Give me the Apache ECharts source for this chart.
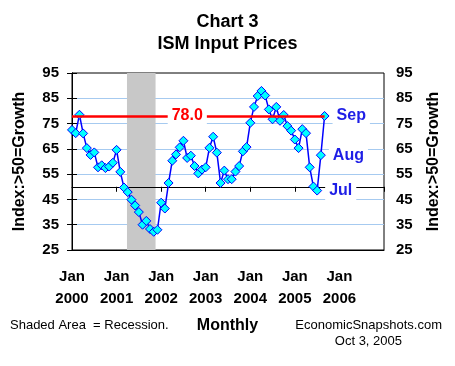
<!DOCTYPE html>
<html><head><meta charset="utf-8">
<script src="https://cdn.jsdelivr.net/npm/echarts@6/dist/echarts.min.js"></script>
<style>html,body{margin:0;padding:0;background:#fff}#c{width:455px;height:366px}</style>
</head><body><div id="c"></div>
<script>
// Monthly ISM input prices index, Jan 2000 .. Sep 2005
const values = [
  72.5, 71.2, 78.5, 71.1, 65.3, 62.6, 63.6, 57.7, 58.5, 57.4, 58.0, 59.5,   // 2000
  64.6, 55.9, 49.7, 47.9, 44.9, 42.6, 40.0, 35.0, 36.5, 33.3, 32.2, 33.0,   // 2001
  43.7, 41.4, 51.5, 60.3, 62.8, 65.6, 68.2, 61.4, 62.3, 58.2, 55.3, 56.8,   // 2002
  57.7, 65.4, 69.8, 63.5, 51.5, 56.4, 53.0, 53.0, 56.0, 58.2, 64.0, 65.7,   // 2003
  75.3, 81.6, 85.9, 87.9, 86.1, 80.6, 76.7, 81.6, 76.1, 78.4, 74.0, 72.2,   // 2004
  68.7, 65.3, 72.8, 71.2, 57.7, 50.1, 48.5, 62.5, 78.0                      // 2005
];
const yearLabels = ['Jan\n2000','Jan\n2001','Jan\n2002','Jan\n2003','Jan\n2004','Jan\n2005','Jan\n2006'];
const yTicks = [25, 35, 45, 55, 65, 75, 85, 95];
const baseline = 50;          // growth threshold line
const target = 78.0;          // latest reading reference line
const recession = [14.8, 22.5]; // months since Jan 2000 (Mar-Nov 2001)
const monthLabels = {66: 'Jul', 67: 'Aug', 68: 'Sep'};
const monthsSpan = 84;

const FF = 'Liberation Sans, Arial, sans-serif';
const data = values.map((v, i) => {
  const item = { value: [i, +(v - baseline).toFixed(2)] };
  if (monthLabels[i]) {
    item.label = {
      show: true, position: 'right', distance: 3, formatter: monthLabels[i],
      color: '#1e1ee6', fontWeight: 'bold', fontSize: 16, fontFamily: FF,
      backgroundColor: '#ffffff', padding: [4, 4], lineHeight: 16
    };
  }
  return item;
});

const yMin = yTicks[0] - baseline, yMax = yTicks[yTicks.length - 1] - baseline;
const yAxisBase = (pos, margin, gap) => ({
  type: 'value', min: yMin, max: yMax, interval: 10, position: pos,
  name: 'Index:>50=Growth', nameLocation: 'middle', nameGap: gap, nameRotate: 90, nameMoveOverlap: false,
  nameTextStyle: { fontWeight: 'bold', fontSize: 16, color: '#000', fontFamily: FF },
  axisLine: { show: true, lineStyle: { color: '#000', width: 1 } },
  axisTick: { show: true, length: 5, lineStyle: { color: '#000' } },
  axisLabel: { formatter: v => String(Math.round(v + baseline)), fontWeight: 'bold', fontSize: 15, color: '#000', margin: margin, fontFamily: FF },
  splitLine: { show: false }
});
const yLeft = yAxisBase('left', 13, 44);
yLeft.splitLine = { show: true, showMinLine: false, showMaxLine: false, lineStyle: { color: '#a6caf0', width: 1 } };
const yRight = yAxisBase('right', 12, 42);

const chart = echarts.init(document.getElementById('c'), null, { renderer: 'canvas' });
chart.setOption({
  animation: false,
  textStyle: { fontFamily: FF },
  title: [
    { text: 'Chart 3\nISM Input Prices', left: 'center', top: 11, padding: 0,
      textStyle: { fontSize: 18, fontWeight: 'bold', lineHeight: 22, color: '#000', fontFamily: FF } },
    { text: 'Shaded Area  = Recession.', left: 10, top: 319, padding: 0,
      textStyle: { fontSize: 13, fontWeight: 'normal', color: '#000', fontFamily: FF } },
    { text: 'Monthly', left: 'center', top: 318, padding: 0,
      textStyle: { fontSize: 16, fontWeight: 'bold', color: '#000', fontFamily: FF } },
    { text: 'EconomicSnapshots.com', right: 13, top: 319, padding: 0,
      textStyle: { fontSize: 13, fontWeight: 'normal', color: '#000', fontFamily: FF } },
    { text: 'Oct 3, 2005', right: 53, top: 335, padding: 0,
      textStyle: { fontSize: 13, fontWeight: 'normal', color: '#000', fontFamily: FF } }
  ],
  grid: { left: 72, right: 71, top: 73, bottom: 116, show: true, borderColor: '#000', borderWidth: 1, backgroundColor: 'transparent' },
  xAxis: [
    { type: 'value', min: 0, max: monthsSpan, interval: 12, position: 'bottom', z: 2,
      axisLine: { onZero: false, lineStyle: { color: '#000', width: 1 } },
      axisTick: { show: false }, splitLine: { show: false },
      axisLabel: { formatter: v => yearLabels[v / 12] || '', fontWeight: 'bold', fontSize: 15, color: '#000', lineHeight: 22, margin: 16, fontFamily: FF } },
    { type: 'value', min: 0, max: monthsSpan, interval: 12, position: 'bottom', z: 2,
      axisLine: { onZero: true, lineStyle: { color: '#000', width: 1 } },
      axisTick: { show: true, length: 5, lineStyle: { color: '#000' } },
      axisLabel: { show: false }, splitLine: { show: false } }
  ],
  yAxis: [yLeft, yRight],
  series: [
    { type: 'line', xAxisIndex: 0, yAxisIndex: 0, data: [], z: 1, silent: true,
      markArea: { silent: true, itemStyle: { color: '#c8c8c8' },
        data: [[{ xAxis: recession[0] }, { xAxis: recession[1] }]] } },
    { type: 'line', xAxisIndex: 0, yAxisIndex: 0, data: data, z: 3,
      symbol: 'diamond', symbolSize: 9, showAllSymbol: true,
      itemStyle: { color: '#00ffff', borderColor: '#0000ff', borderWidth: 1 },
      lineStyle: { color: '#0000ff', width: 1.5 },
      markLine: { symbol: 'none', silent: true,
        lineStyle: { color: '#ff0000', width: 2.5, type: 'solid' },
        label: { position: 'middle', distance: 0, verticalAlign: 'middle', formatter: target.toFixed(1), color: '#ff0000', fontWeight: 'bold', fontSize: 16, fontFamily: FF,
          backgroundColor: '#ffffff', padding: [2, 4], offset: [-11, 0] },
        data: [[{ coord: [0, target - baseline] }, { coord: [values.length - 1, target - baseline] }]] } }
  ]
});
</script></body></html>
